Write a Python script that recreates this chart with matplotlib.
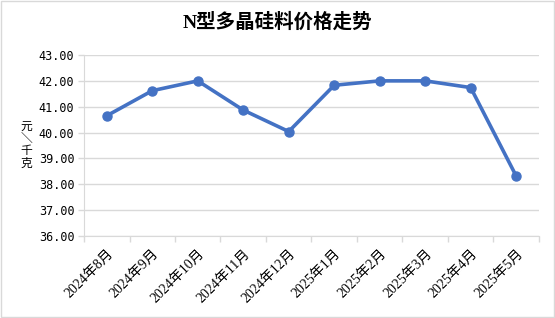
import numpy as np
import matplotlib.pyplot as plt
from matplotlib.patches import Rectangle

plt.rcParams['font.family'] = ['Noto Sans CJK SC', 'DejaVu Sans']
serif_cjk = ['Liberation Serif', 'Noto Sans CJK SC']

months = ['2024年8月', '2024年9月', '2024年10月', '2024年11月', '2024年12月',
          '2025年1月', '2025年2月', '2025年3月', '2025年4月', '2025年5月']
prices = [40.65, 41.62, 42.00, 40.87, 40.04, 41.83, 42.00, 42.00, 41.74, 38.32]
yticks = [36, 37, 38, 39, 40, 41, 42, 43]

fig = plt.figure(figsize=(5.55, 3.18), dpi=100)
ax = fig.add_axes([0.1514, 0.258, 0.8196, 0.569])

x = np.arange(len(months))
ax.plot(x, prices, color='#4472C4', lw=2.6, marker='o', ms=6.5, zorder=3,
        solid_capstyle='round')

ax.set_xlim(-0.5, len(months) - 0.5)
ax.set_ylim(36, 43)
ax.set_yticks(yticks)
ax.set_yticklabels(['%.2f' % v for v in yticks], fontsize=8.5, family='DejaVu Sans Mono')
ax.set_xticks(x)
ax.set_xticklabels(months, rotation=45, ha='right', va='top', rotation_mode='anchor',
                   fontsize=10, family=serif_cjk)
ax.set_xticks(np.arange(-0.5, len(months)), minor=True)
ax.tick_params(axis='x', which='major', length=0, pad=8)
ax.tick_params(axis='x', which='minor', length=4, color='#d9d9d9', width=1)
ax.tick_params(axis='y', length=4, color='#d9d9d9', width=1, pad=3)

ax.grid(axis='y', color='#d9d9d9', lw=1)
ax.set_axisbelow(True)
for s in ['top', 'right']:
    ax.spines[s].set_visible(False)
ax.spines['left'].set_color('#d9d9d9')
ax.spines['bottom'].set_color('#d9d9d9')

fig.text(0.5, 0.93, 'N型多晶硅料价格走势', ha='center', va='center',
         fontsize=14, fontweight='bold', family=serif_cjk)
fig.text(0.048, 0.545, '元\n＼\n千\n克', ha='center', va='center', fontsize=8.5,
         linespacing=0.95)

fig.patches.append(Rectangle((0.002, 0.003), 0.996, 0.994, transform=fig.transFigure,
                             fill=False, edgecolor='#d9d9d9', lw=1))

fig.savefig('out.png', dpi=100)
